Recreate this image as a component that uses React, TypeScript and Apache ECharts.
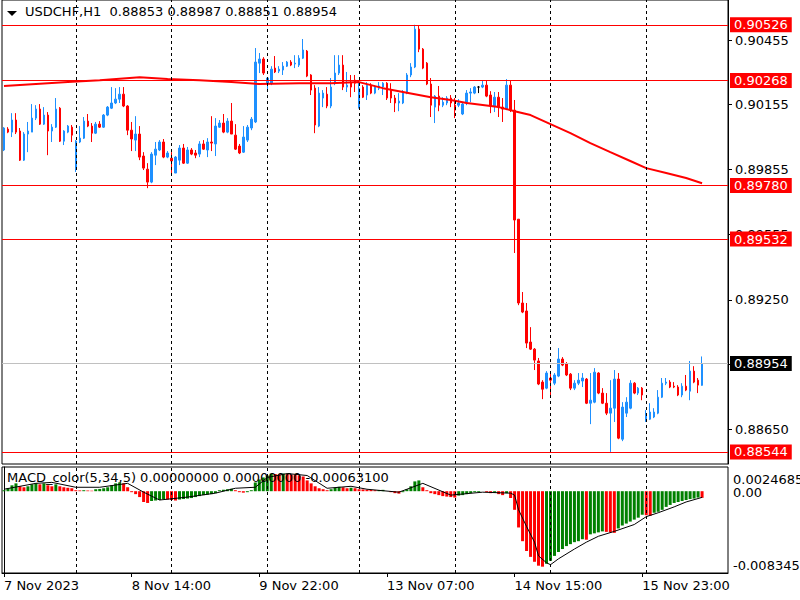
import React, { useEffect, useRef } from "react";
import * as echarts from "echarts";

const FONT = "'DejaVu Sans', Verdana, sans-serif";
const BLUE = "#1e90ff";
const RED = "#ff0000";
const GREEN = "#008000";

const SYMBOL_TITLE = "USDCHF,H1  0.88853 0.88987 0.88851 0.88954";
const MACD_TITLE = "MACD_color(5,34,5) 0.00000000 0.00000000 -0.00063100";

// Hourly bars, 7 Nov 2023 06:00 .. 15 Nov 2023
const open = [
  0.89945, 0.90042, 0.90028, 0.90084, 0.90033, 0.89898, 0.90019, 0.90028, 0.90093, 0.90135,
  0.90065, 0.90107, 0.90033, 0.90051, 0.90139, 0.89986, 0.90028, 0.90051, 0.89861, 0.89982,
  0.90000, 0.90079, 0.90056, 0.90023, 0.90065, 0.90051, 0.90107, 0.90139, 0.90163, 0.90181,
  0.90204, 0.90149, 0.90037, 0.89991, 0.90019, 0.89917, 0.89856, 0.89796, 0.89921, 0.89945,
  0.89982, 0.89912, 0.89907, 0.89838, 0.89898, 0.89954, 0.89884, 0.89945, 0.89931, 0.89926,
  0.89973, 0.89945, 0.89982, 0.89973, 0.90051, 0.90070, 0.90028, 0.90079, 0.90014, 0.89963,
  0.89935, 0.89991, 0.90047, 0.90075, 0.90348, 0.90367, 0.90255, 0.90255, 0.90325, 0.90311,
  0.90316, 0.90334, 0.90353, 0.90344, 0.90339, 0.90371, 0.90404, 0.90293, 0.90232, 0.90056,
  0.90186, 0.90204, 0.90149, 0.90255, 0.90302, 0.90339, 0.90237, 0.90260, 0.90269, 0.90139,
  0.90237, 0.90200, 0.90246, 0.90209, 0.90232, 0.90237, 0.90255, 0.90223, 0.90186, 0.90163,
  0.90163, 0.90209, 0.90293, 0.90330, 0.90506, 0.90413, 0.90348, 0.90251, 0.90144, 0.90195,
  0.90153, 0.90163, 0.90186, 0.90153, 0.90153, 0.90112, 0.90163, 0.90209, 0.90209, 0.90237,
  0.90237, 0.90246, 0.90200, 0.90149, 0.90190, 0.90144, 0.90135, 0.90246, 0.90130, 0.89624,
  0.89235, 0.89198, 0.89054, 0.89021, 0.88966, 0.88868, 0.88840, 0.88887, 0.88863, 0.88896,
  0.88975, 0.88952, 0.88905, 0.88840, 0.88863, 0.88873, 0.88882, 0.88770, 0.88775, 0.88910,
  0.88817, 0.88770, 0.88724, 0.88747, 0.88882, 0.88603, 0.88724, 0.88747, 0.88863, 0.88817,
  0.88840, 0.88687, 0.88696, 0.88706, 0.88724, 0.88798, 0.88863, 0.88868, 0.88849, 0.88845,
  0.88808, 0.88849, 0.88826, 0.88919, 0.88877, 0.88853,
];
const close = [
  0.90047, 0.90028, 0.90084, 0.90028, 0.89898, 0.90019, 0.90033, 0.90093, 0.90135, 0.90065,
  0.90107, 0.90033, 0.90051, 0.90135, 0.89986, 0.90033, 0.90056, 0.90014, 0.89986, 0.90000,
  0.90079, 0.90056, 0.90023, 0.90065, 0.90051, 0.90107, 0.90144, 0.90163, 0.90181, 0.90204,
  0.90149, 0.90037, 0.89996, 0.90019, 0.89912, 0.89861, 0.89796, 0.89926, 0.89949, 0.89982,
  0.89912, 0.89931, 0.89894, 0.89912, 0.89954, 0.89884, 0.89945, 0.89926, 0.89921, 0.89973,
  0.89949, 0.89982, 0.89977, 0.90056, 0.90070, 0.90028, 0.90079, 0.90019, 0.89949, 0.89931,
  0.90005, 0.90051, 0.90088, 0.90353, 0.90367, 0.90302, 0.90279, 0.90320, 0.90307, 0.90320,
  0.90334, 0.90353, 0.90339, 0.90348, 0.90371, 0.90409, 0.90288, 0.90223, 0.90061, 0.90209,
  0.90209, 0.90149, 0.90237, 0.90302, 0.90339, 0.90237, 0.90246, 0.90237, 0.90255, 0.90232,
  0.90190, 0.90246, 0.90209, 0.90237, 0.90242, 0.90255, 0.90186, 0.90186, 0.90163, 0.90172,
  0.90209, 0.90293, 0.90330, 0.90506, 0.90413, 0.90325, 0.90251, 0.90153, 0.90195, 0.90153,
  0.90167, 0.90186, 0.90163, 0.90130, 0.90163, 0.90158, 0.90209, 0.90214, 0.90237, 0.90237,
  0.90246, 0.90195, 0.90149, 0.90190, 0.90144, 0.90135, 0.90246, 0.90130, 0.89620, 0.89235,
  0.89193, 0.89049, 0.89021, 0.88970, 0.88859, 0.88835, 0.88910, 0.88877, 0.88901, 0.88975,
  0.88947, 0.88901, 0.88840, 0.88863, 0.88877, 0.88887, 0.88770, 0.88784, 0.88914, 0.88817,
  0.88770, 0.88724, 0.88747, 0.88882, 0.88608, 0.88752, 0.88775, 0.88863, 0.88817, 0.88840,
  0.88808, 0.88715, 0.88729, 0.88729, 0.88798, 0.88863, 0.88868, 0.88845, 0.88845, 0.88808,
  0.88849, 0.88831, 0.88919, 0.88868, 0.88854, 0.88954,
];
const high = [
  0.90051, 0.90051, 0.90116, 0.90116, 0.90047, 0.90028, 0.90075, 0.90158, 0.90153, 0.90158,
  0.90144, 0.90121, 0.90065, 0.90186, 0.90144, 0.90037, 0.90061, 0.90061, 0.89991, 0.90056,
  0.90098, 0.90112, 0.90070, 0.90075, 0.90079, 0.90112, 0.90149, 0.90237, 0.90232, 0.90237,
  0.90237, 0.90153, 0.90075, 0.90102, 0.90056, 0.89935, 0.89884, 0.89935, 0.89982, 0.89991,
  0.89996, 0.89940, 0.89935, 0.89917, 0.89968, 0.89973, 0.89959, 0.89954, 0.89945, 0.89986,
  0.89991, 0.90000, 0.90102, 0.90093, 0.90084, 0.90112, 0.90093, 0.90163, 0.90065, 0.89973,
  0.90056, 0.90061, 0.90098, 0.90418, 0.90395, 0.90376, 0.90283, 0.90334, 0.90381, 0.90334,
  0.90353, 0.90358, 0.90362, 0.90385, 0.90385, 0.90460, 0.90409, 0.90297, 0.90246, 0.90237,
  0.90223, 0.90237, 0.90279, 0.90385, 0.90385, 0.90385, 0.90307, 0.90293, 0.90293, 0.90269,
  0.90246, 0.90260, 0.90255, 0.90246, 0.90260, 0.90260, 0.90260, 0.90255, 0.90200, 0.90209,
  0.90223, 0.90302, 0.90348, 0.90526, 0.90525, 0.90418, 0.90353, 0.90279, 0.90200, 0.90242,
  0.90190, 0.90195, 0.90200, 0.90186, 0.90181, 0.90163, 0.90223, 0.90232, 0.90242, 0.90242,
  0.90265, 0.90265, 0.90218, 0.90214, 0.90214, 0.90186, 0.90274, 0.90269, 0.90177, 0.89624,
  0.89286, 0.89235, 0.89123, 0.89026, 0.88980, 0.88877, 0.88919, 0.88910, 0.88910, 0.89026,
  0.88984, 0.88961, 0.88910, 0.88877, 0.88910, 0.88910, 0.88887, 0.88910, 0.88933, 0.88914,
  0.88840, 0.88817, 0.88877, 0.88924, 0.88910, 0.88775, 0.88798, 0.88877, 0.88868, 0.88845,
  0.88845, 0.88738, 0.88770, 0.88747, 0.88831, 0.88887, 0.88887, 0.88877, 0.88868, 0.88854,
  0.88863, 0.88901, 0.88966, 0.88942, 0.88887, 0.88987,
];
const low = [
  0.89940, 0.90023, 0.90005, 0.90019, 0.89894, 0.89894, 0.89935, 0.90028, 0.90084, 0.90061,
  0.90061, 0.89921, 0.89982, 0.90047, 0.89982, 0.89968, 0.90023, 0.89982, 0.89843, 0.89977,
  0.89996, 0.90051, 0.89982, 0.90019, 0.90047, 0.90047, 0.90102, 0.90135, 0.90158, 0.90163,
  0.90144, 0.90014, 0.89940, 0.89940, 0.89898, 0.89852, 0.89768, 0.89791, 0.89875, 0.89940,
  0.89907, 0.89907, 0.89838, 0.89838, 0.89875, 0.89880, 0.89880, 0.89921, 0.89907, 0.89912,
  0.89945, 0.89912, 0.89940, 0.89917, 0.90047, 0.90023, 0.90023, 0.90019, 0.89945, 0.89926,
  0.89931, 0.89982, 0.90037, 0.90070, 0.90302, 0.90293, 0.90218, 0.90246, 0.90302, 0.90302,
  0.90293, 0.90330, 0.90334, 0.90325, 0.90330, 0.90367, 0.90283, 0.90200, 0.90023, 0.90051,
  0.90144, 0.90139, 0.90139, 0.90246, 0.90293, 0.90223, 0.90214, 0.90190, 0.90214, 0.90139,
  0.90186, 0.90177, 0.90204, 0.90204, 0.90223, 0.90200, 0.90177, 0.90163, 0.90121, 0.90125,
  0.90158, 0.90204, 0.90283, 0.90325, 0.90399, 0.90320, 0.90246, 0.90098, 0.90070, 0.90125,
  0.90144, 0.90153, 0.90144, 0.90093, 0.90144, 0.90107, 0.90153, 0.90167, 0.90204, 0.90209,
  0.90232, 0.90190, 0.90116, 0.90121, 0.90098, 0.90075, 0.90130, 0.90121, 0.89467, 0.89225,
  0.89188, 0.89026, 0.89017, 0.88924, 0.88854, 0.88789, 0.88835, 0.88808, 0.88854, 0.88891,
  0.88942, 0.88896, 0.88831, 0.88831, 0.88854, 0.88845, 0.88766, 0.88673, 0.88770, 0.88812,
  0.88766, 0.88715, 0.88544, 0.88683, 0.88603, 0.88594, 0.88706, 0.88742, 0.88812, 0.88808,
  0.88784, 0.88683, 0.88692, 0.88701, 0.88719, 0.88794, 0.88854, 0.88840, 0.88840, 0.88803,
  0.88798, 0.88826, 0.88784, 0.88863, 0.88817, 0.88851,
];

// Moving average read at bar indexes [barIndex, price]
const movingAverage = [
  [0, 0.90242], [8, 0.90251], [16, 0.9026], [24, 0.90269], [34, 0.90283], [41, 0.90274],
  [49, 0.90269], [57, 0.9026], [64, 0.90251], [74, 0.90255], [82, 0.90255], [89, 0.9026],
  [95, 0.90232], [99, 0.90218], [103, 0.90204], [107, 0.9019], [112, 0.90177], [116, 0.90163],
  [124, 0.90144], [128, 0.90125], [132, 0.90107], [137, 0.90065], [142, 0.90023], [147, 0.89977],
  [152, 0.89935], [157, 0.89894], [161, 0.89861], [166, 0.89838], [171, 0.89815], [175, 0.89791],
];

const levelPrices = [0.90526, 0.90268, 0.8978, 0.89532, 0.88544];
const lastPrice = 0.88954;
const priceTicks = [0.90455, 0.90155, 0.89855, 0.89555, 0.8925, 0.8895, 0.8865];
const priceMin = 0.88488;
const priceMax = 0.90641;

// MACD histogram per bar
const macdHist = [
  0.0001, 0.0003, 0.0006, 0.0008, 0.0005, 0.0004, 0.0005, 0.0007, 0.0008, 0.0007,
  0.0008, 0.0006, 0.0005, 0.0007, 0.0005, 0.0004, 0.00035, 0.0003, 0.0001, 0.00008,
  0.0001, 0.00007, 0.00005, 0.0002, 0.00023, 0.0003, 0.0004, 0.0006, 0.0008, 0.0009,
  0.0008, 0.0004, -0.0001, -0.0003, -0.0006, -0.0011, -0.0012, -0.001, -0.00095, -0.0009,
  -0.0008, -0.00085, -0.0009, -0.00095, -0.00085, -0.0008, -0.00075, -0.0007, -0.0006, -0.0005,
  -0.0004, -0.00035, -0.0003, -0.0002, 0.0001, 0.00015, 0.0002, 0.00025, 0.0001, -0.0001,
  -0.00015, -0.0001, 0.0001, 0.0009, 0.0012, 0.0014, 0.0016, 0.0018, 0.00175, 0.0017,
  0.0018, 0.00175, 0.0017, 0.00165, 0.0016, 0.0015, 0.0011, 0.0008, 0.0005, 0.0003,
  0.0002, 0.0001, 0.0002, 0.00035, 0.00045, 0.0004, 0.0003, 0.00035, 0.0003, 0.0002,
  0.00018, 0.00015, 0.00012, 0.0001, 0.00012, 0.00014, 0, -0.0001, -0.0002, -0.00025,
  -0.0001, 0.0002, 0.0005, 0.001, 0.0011, 0.0004, 0.0001, -0.0002, -0.0003, -0.0004,
  -0.0005, -0.00055, -0.0006, -0.00065, -0.00045, -0.0004, -0.0003, -0.0002, -0.0001, -0.00008,
  0, -0.0001, -0.0002, -0.00015, -0.0003, -0.0004, -0.0002, -0.0007, -0.0019, -0.0037,
  -0.0051, -0.0061, -0.0067, -0.0072, -0.0076, -0.0077, -0.0074, -0.0071, -0.0066, -0.0062,
  -0.0059, -0.0056, -0.0054, -0.0052, -0.0051, -0.0049, -0.00495, -0.0044, -0.0043, -0.0042,
  -0.0041, -0.00415, -0.0042, -0.00425, -0.0038, -0.0035, -0.0033, -0.0031, -0.0029, -0.0027,
  -0.0024, -0.00245, -0.0025, -0.0022, -0.0021, -0.0019, -0.0016, -0.0014, -0.0012, -0.0011,
  -0.001, -0.0009, -0.0008, -0.00075, -0.00065, -0.00068,
];
// MACD signal line read at bar indexes [barIndex, value]
const macdSignal = [
  [0, 0.0002], [8, 0.0008], [12, 0.0009], [18, 0.0004], [24, 0.0004], [31, 0.0008],
  [35, -0.0001], [39, -0.0009], [46, -0.0006], [53, -0.0002], [58, 0.0003], [63, 0.0004],
  [66, 0.0014], [71, 0.0018], [76, 0.0016], [81, 0.0003], [87, 0.0005], [91, 0.0002],
  [99, -0.0001], [105, 0.0008], [112, -0.0004], [120, -0.0001], [127, -0.0002], [128, -0.0004],
  [129, -0.0019], [131, -0.0036], [133, -0.0052], [134, -0.0066], [136, -0.0073], [137, -0.0075],
  [139, -0.0069], [143, -0.0059], [146, -0.0052], [149, -0.0046], [153, -0.0041], [158, -0.0034],
  [161, -0.0026], [164, -0.0022], [168, -0.0016], [171, -0.0011], [175, -0.000631],
];
const macdMax = 0.0024685;
const macdMin = -0.0083451;

const SLOTS = 182;
const xTickIndex = [0, 32, 64, 96, 128, 160];
const xTickLabels = ["7 Nov 2023", "8 Nov 14:00", "9 Nov 22:00", "13 Nov 07:00", "14 Nov 15:00", "15 Nov 23:00"];
const daySeparators = [18, 42, 66, 89, 113, 137, 161];

function buildOption() {
  const categories = Array.from({ length: SLOTS }, (_, i) => String(i));
  const candles = open.map((o, i) => [o, close[i], low[i], high[i]]);
  const hist = macdHist.map((v, i) => ({
    value: [i, v],
    itemStyle: { color: i > 0 && v < macdHist[i - 1] ? RED : GREEN },
  }));
  const tag = (bg: string) => ({
    show: true,
    position: "end",
    distance: 2,
    formatter: (p: any) => Number(p.value).toFixed(5),
    color: "#fff",
    backgroundColor: bg,
    padding: [2, 4, 0, 4],
    lineHeight: 13,
    fontSize: 13,
    fontFamily: FONT,
  });
  const dayLines = () =>
    daySeparators.map((i) => ({
      xAxis: i,
      lineStyle: { color: "#000", type: [3, 3], width: 1 },
      label: { show: false },
    }));
  const txt = { fontSize: 13, color: "#000", fontFamily: FONT };

  return {
    animation: false,
    backgroundColor: "#fff",
    title: [
      { text: SYMBOL_TITLE, left: 25, top: 5, padding: 0, textStyle: { ...txt, fontWeight: "normal" } },
      { text: MACD_TITLE, left: 7, top: 471, padding: 0, textStyle: { ...txt, fontWeight: "normal" } },
    ],
    graphic: [
      { type: "polygon", shape: { points: [[7, 11], [17, 11], [12, 16]] }, style: { fill: "#000" }, z: 100 },
    ],
    grid: [
      {
        left: 2, right: 72, top: 0, height: 464, show: true, borderColor: "#000", borderWidth: 1,
        backgroundColor: "#fff", containLabel: false, outerBoundsMode: "none",
      },
      {
        left: 2, right: 72, top: 467, height: 106, show: true, borderColor: "#000", borderWidth: 1,
        backgroundColor: "#fff", containLabel: false, outerBoundsMode: "none",
      },
    ],
    xAxis: [
      {
        type: "category", gridIndex: 0, data: categories, boundaryGap: true,
        axisLine: { show: false }, axisTick: { show: false }, axisLabel: { show: false }, splitLine: { show: false },
      },
      {
        type: "value", gridIndex: 1, min: -0.5, max: SLOTS - 0.5,
        axisLine: { show: true, onZero: false, lineStyle: { color: "#000" } },
        axisTick: { show: true, length: 4, customValues: xTickIndex, lineStyle: { color: "#000" } },
        axisLabel: {
          ...txt, align: "left", margin: 6, customValues: xTickIndex,
          formatter: (v: number) => {
            const k = xTickIndex.indexOf(Math.round(v));
            return k >= 0 ? xTickLabels[k] : "";
          },
        },
        splitLine: { show: false },
      },
    ],
    yAxis: [
      {
        type: "value", gridIndex: 0, position: "right", min: priceMin, max: priceMax, scale: true,
        splitLine: { show: false },
        axisLine: { show: true, lineStyle: { color: "#000" } },
        axisTick: { show: true, length: 4, customValues: priceTicks, lineStyle: { color: "#000" } },
        axisLabel: { ...txt, margin: 7, customValues: priceTicks, formatter: (v: number) => v.toFixed(5) },
      },
      {
        type: "value", gridIndex: 1, position: "right", min: macdMin, max: macdMax,
        splitLine: { show: false },
        axisLine: { show: true, lineStyle: { color: "#000" } },
        axisTick: { show: false },
        axisLabel: {
          ...txt, margin: 5, customValues: [macdMax, 0, macdMin],
          formatter: (v: number) =>
            v > 0 ? `{t|${v.toFixed(7)}}` : v < 0 ? `{b|${v.toFixed(7)}}` : `{z|0.00}`,
          rich: {
            t: { ...txt, padding: [24, 0, 0, 0] },
            b: { ...txt, padding: [0, 0, 16, 0] },
            z: { ...txt, padding: [2, 0, 0, 0] },
          },
        },
      },
    ],
    series: [
      {
        type: "candlestick", xAxisIndex: 0, yAxisIndex: 0, data: candles, barWidth: 2,
        itemStyle: {
          color: BLUE, color0: RED, borderColor: BLUE, borderColor0: RED, borderColorDoji: "#000", borderWidth: 1,
        },
        markLine: {
          symbol: "none", silent: true, animation: false, precision: 5,
          data: [
            ...dayLines(),
            ...levelPrices.map((v) => ({ yAxis: v, lineStyle: { color: RED, type: "solid", width: 1 }, label: tag(RED) })),
            { yAxis: lastPrice, lineStyle: { color: "#c0c0c0", type: "solid", width: 1 }, label: tag("#000") },
          ],
        },
      },
      {
        type: "line", xAxisIndex: 0, yAxisIndex: 0, data: movingAverage, showSymbol: false, z: 4,
        lineStyle: { color: RED, width: 2 },
      },
      {
        type: "bar", xAxisIndex: 1, yAxisIndex: 1, data: hist, barWidth: 3,
        markLine: { symbol: "none", silent: true, animation: false, precision: 5, data: dayLines() },
      },
      {
        type: "line", xAxisIndex: 1, yAxisIndex: 1, data: macdSignal, showSymbol: false, z: 4,
        lineStyle: { color: "#000", width: 1 },
      },
    ],
  };
}

export default function App() {
  const ref = useRef<HTMLDivElement>(null);
  useEffect(() => {
    document.body.style.margin = "0";
    const chart = echarts.init(ref.current!, null, { renderer: "svg" });
    chart.setOption(buildOption() as any);
    return () => chart.dispose();
  }, []);
  return <div ref={ref} style={{ width: 800, height: 600 }} />;
}
